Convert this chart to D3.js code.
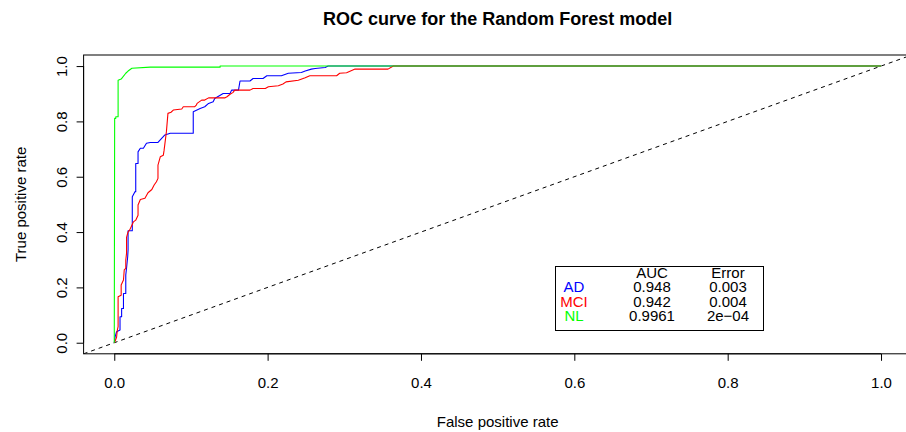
<!DOCTYPE html>
<html>
<head>
<meta charset="utf-8">
<script src="https://cdn.jsdelivr.net/npm/d3@7"></script>
<style>
  html, body { margin: 0; padding: 0; background: #fff; }
  svg { display: block; font-family: "Liberation Sans", Arial, Helvetica, sans-serif; }
</style>
</head>
<body>
<svg id="chart" width="906" height="432"></svg>
<script>
// ---------- data ----------
const chartTitle = "ROC curve for the Random Forest model";
const xLabel = "False positive rate";
const yLabel = "True positive rate";
const tickValues = [0, 0.2, 0.4, 0.6, 0.8, 1.0];
const tickLabels = ["0.0", "0.2", "0.4", "0.6", "0.8", "1.0"];

const seriesNames = ["AD", "MCI", "NL"];
const seriesColors = ["#0000FF", "#FF0000", "#00FF00"];
const aucValues = ["0.948", "0.942", "0.9961"];
const errorValues = ["0.003", "0.004", "2e\u221204"];

// [false positive rate, true positive rate]
const adPoints = [
  [0,0],[0.001,0.02],[0.003,0.04],[0.0075,0.046],[0.0075,0.094],[0.0096,0.094],[0.0096,0.124],
  [0.012,0.124],[0.012,0.178],[0.015,0.178],[0.015,0.245],[0.016,0.269],[0.0175,0.311],[0.018,0.335],
  [0.018,0.405],[0.0235,0.405],[0.0235,0.528],[0.027,0.546],[0.028,0.546],[0.028,0.648],[0.031,0.648],
  [0.031,0.69],[0.034,0.703],[0.038,0.703],[0.042,0.721],[0.047,0.724],[0.057,0.724],[0.066,0.751],
  [0.073,0.757],[0.103,0.757],[0.103,0.835],[0.112,0.847],[0.118,0.853],[0.123,0.865],[0.129,0.871],
  [0.131,0.883],[0.142,0.901],[0.151,0.901],[0.153,0.913],[0.162,0.913],[0.164,0.946],[0.177,0.946],
  [0.181,0.955],[0.194,0.955],[0.199,0.965],[0.218,0.965],[0.227,0.974],[0.244,0.977],[0.249,0.982],
  [0.257,0.989],[0.262,0.991],[0.275,0.995],[0.279,1],[1,1]
];
const mciPoints = [
  [0,0],[0.001,0.005],[0.003,0.02],[0.004,0.046],[0.005,0.058],[0.005,0.166],[0.009,0.172],[0.009,0.209],
  [0.012,0.227],[0.013,0.263],[0.015,0.269],[0.015,0.299],[0.016,0.323],[0.016,0.381],[0.018,0.401],
  [0.02,0.407],[0.023,0.425],[0.025,0.437],[0.028,0.443],[0.031,0.461],[0.031,0.498],[0.034,0.518],
  [0.04,0.522],[0.044,0.542],[0.049,0.554],[0.052,0.57],[0.055,0.582],[0.057,0.594],[0.057,0.642],
  [0.06,0.672],[0.064,0.678],[0.065,0.696],[0.068,0.763],[0.07,0.829],[0.074,0.833],[0.077,0.841],
  [0.088,0.845],[0.09,0.853],[0.105,0.853],[0.107,0.859],[0.108,0.865],[0.114,0.877],[0.118,0.877],
  [0.123,0.885],[0.144,0.885],[0.147,0.889],[0.151,0.898],[0.155,0.905],[0.157,0.913],[0.177,0.913],
  [0.181,0.919],[0.197,0.919],[0.201,0.925],[0.214,0.929],[0.22,0.935],[0.224,0.943],[0.24,0.949],
  [0.249,0.958],[0.255,0.965],[0.29,0.965],[0.294,0.974],[0.303,0.976],[0.314,0.989],[0.357,0.989],
  [0.364,1],[1,1]
];
const nlPoints = [
  [0,0],[0.0005,0.811],[0.002,0.811],[0.002,0.817],[0.005,0.817],[0.005,0.949],[0.009,0.953],
  [0.015,0.974],[0.018,0.982],[0.023,0.992],[0.047,0.996],[0.138,0.996],[0.138,1],[1,1]
];
const diagonal = [[-0.04,-0.04],[1.04,1.04]];

// ---------- layout ----------
const svg = d3.select("#chart");
const pLeft = 83.6, pRight = 911.7, pTop = 55, pBottom = 353.8;
const x = d3.scaleLinear().domain([-0.04, 1.04]).range([pLeft, pRight]);
const y = d3.scaleLinear().domain([-0.04, 1.04]).range([pBottom, pTop]);
const fs = 15;

svg.append("rect").attr("width", 906).attr("height", 432).attr("fill", "#fff");

svg.append("defs").append("clipPath").attr("id", "plotclip")
  .append("rect").attr("x", pLeft).attr("y", pTop).attr("width", pRight - pLeft).attr("height", pBottom - pTop);

const plot = svg.append("g").attr("clip-path", "url(#plotclip)");
const line = d3.line().x(d => x(d[0])).y(d => y(d[1]));

// diagonal
plot.append("path").datum(diagonal).attr("d", line)
  .attr("fill", "none").attr("stroke", "#000").attr("stroke-width", 1)
  .attr("stroke-dasharray", "4,4");

const allPoints = [adPoints, mciPoints, nlPoints];
allPoints.forEach((pts, i) => {
  plot.append("path").datum(pts).attr("d", line)
    .attr("fill", "none").attr("stroke", seriesColors[i]).attr("stroke-width", 1.1)
    .attr("stroke-linejoin", "round");
});

// axes
const xAxis = d3.axisBottom(x).tickValues(tickValues).tickFormat((d, i) => tickLabels[i])
  .tickSizeOuter(0).tickSizeInner(7).tickPadding(0);
const gx = svg.append("g").attr("transform", `translate(0,${pBottom})`).call(xAxis);
gx.select(".domain").attr("d", `M${x(0)},0H${x(1)}`);
gx.selectAll("text").attr("font-size", fs).attr("font-family", "Liberation Sans, Arial, sans-serif")
  .attr("dy", null).attr("y", 34.5).attr("fill", "#000");
gx.selectAll("line,path").attr("stroke", "#000");

const yAxis = d3.axisLeft(y).tickValues(tickValues).tickFormat((d, i) => tickLabels[i])
  .tickSizeOuter(0).tickSizeInner(7).tickPadding(0);
const gy = svg.append("g").attr("transform", `translate(${pLeft},0)`).call(yAxis);
gy.select(".domain").attr("d", `M0,${y(0)}V${y(1)}`);
gy.selectAll("line,path").attr("stroke", "#000");
gy.selectAll(".tick text").attr("font-size", fs).attr("font-family", "Liberation Sans, Arial, sans-serif")
  .attr("fill", "#000").attr("x", null).attr("dy", null).attr("text-anchor", "middle")
  .attr("transform", "translate(-16.5,0) rotate(-90)");

// box
svg.append("rect").attr("x", pLeft).attr("y", pTop).attr("width", pRight - pLeft).attr("height", pBottom - pTop)
  .attr("fill", "none").attr("stroke", "#000").attr("stroke-width", 1);

// titles
svg.append("text").attr("x", (pLeft + pRight) / 2).attr("y", 24.5).attr("text-anchor", "middle")
  .attr("font-size", 18).attr("font-weight", "bold").text(chartTitle);
svg.append("text").attr("x", (pLeft + pRight) / 2).attr("y", 426.5).attr("text-anchor", "middle")
  .attr("font-size", fs).text(xLabel);
svg.append("text").attr("transform", `translate(25.5,${(pTop + pBottom) / 2}) rotate(-90)`)
  .attr("text-anchor", "middle").attr("font-size", fs).text(yLabel);

// legend
const lg = svg.append("g");
lg.append("rect").attr("x", 555.5).attr("y", 266.5).attr("width", 208).attr("height", 64)
  .attr("fill", "#fff").attr("stroke", "#000").attr("stroke-width", 1);
const colName = 574, colAuc = 652, colErr = 728;
const rowY = [277.5, 292, 306.5, 321];
lg.append("text").attr("x", colAuc).attr("y", rowY[0]).attr("text-anchor", "middle").attr("font-size", fs).text("AUC");
lg.append("text").attr("x", colErr).attr("y", rowY[0]).attr("text-anchor", "middle").attr("font-size", fs).text("Error");
seriesNames.forEach((n, i) => {
  lg.append("text").attr("x", colName).attr("y", rowY[i + 1]).attr("text-anchor", "middle")
    .attr("font-size", fs).attr("fill", seriesColors[i]).text(n);
  lg.append("text").attr("x", colAuc).attr("y", rowY[i + 1]).attr("text-anchor", "middle")
    .attr("font-size", fs).text(aucValues[i]);
  lg.append("text").attr("x", colErr).attr("y", rowY[i + 1]).attr("text-anchor", "middle")
    .attr("font-size", fs).text(errorValues[i]);
});
</script>
</body>
</html>
